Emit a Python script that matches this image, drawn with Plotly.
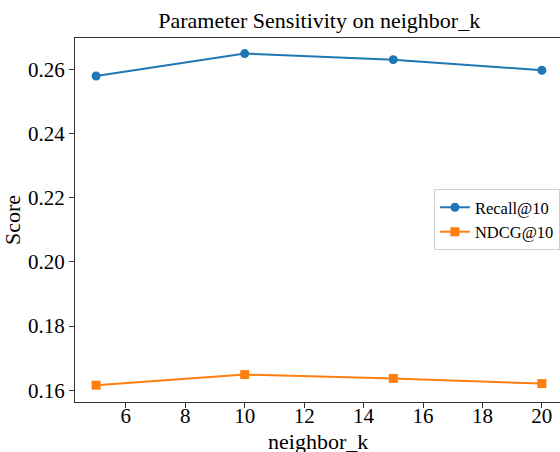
import plotly.graph_objects as go

neighbor_k = [5, 10, 15, 20]
recall_at_10 = [0.2579, 0.2649, 0.2630, 0.2597]
ndcg_at_10 = [0.1616, 0.1649, 0.1637, 0.1621]
x_ticks = [6, 8, 10, 12, 14, 16, 18, 20]
y_ticks = [0.16, 0.18, 0.20, 0.22, 0.24, 0.26]

FONT = "Liberation Serif"

fig = go.Figure()
fig.add_trace(go.Scatter(
    x=neighbor_k, y=recall_at_10, name="Recall@10", mode="lines+markers",
    line=dict(color="#1f77b4", width=2),
    marker=dict(symbol="circle", size=9, color="#1f77b4"),
))
fig.add_trace(go.Scatter(
    x=neighbor_k, y=ndcg_at_10, name="NDCG@10", mode="lines+markers",
    line=dict(color="#ff7f0e", width=2),
    marker=dict(symbol="square", size=9, color="#ff7f0e"),
))

fig.update_layout(
    width=560, height=452,
    margin=dict(l=75, r=0, t=38, b=50, autoexpand=False),
    paper_bgcolor="white", plot_bgcolor="white",
    font=dict(family=FONT, size=22, color="black"),
    title=dict(text="Parameter Sensitivity on neighbor_k", x=0.57, xanchor="center",
               y=0.955, yanchor="middle", font=dict(family=FONT, size=22, color="black")),
    legend=dict(x=0.74, y=0.585, xanchor="left", yanchor="top",
                bgcolor="white", bordercolor="#d0d0d0", borderwidth=1,
                font=dict(family=FONT, size=16.5, color="black"),
                tracegroupgap=0, itemwidth=30),
    showlegend=True,
    annotations=[
        dict(text="neighbor_k", xref="paper", yref="paper", x=0.5, y=-0.108,
             xanchor="center", yanchor="middle", showarrow=False,
             font=dict(family=FONT, size=22, color="black")),
    ],
)
fig.update_xaxes(
    range=[4.29, 20.61], tickvals=x_ticks, ticks="outside", ticklen=5, tickwidth=1,
    tickcolor="#333", showline=True, linecolor="#333", linewidth=1.2, mirror=True,
    showgrid=False, zeroline=False, automargin=False, ticklabelstandoff=-10,
    tickfont=dict(family=FONT, size=21),
)
fig.update_yaxes(
    range=[0.15636, 0.26975], tickvals=y_ticks, tickformat=".2f", ticks="outside",
    ticklen=5, tickwidth=1, tickcolor="#333", showline=True, linecolor="#333",
    linewidth=1.2, mirror=False, showgrid=False, zeroline=False, automargin=False,
    title=dict(text="Score", standoff=6, font=dict(family=FONT, size=22)),
    tickfont=dict(family=FONT, size=21),
)

fig.write_html(
    "out.html",
    config={"displayModeBar": False},
    post_script="document.body.style.margin='0';document.body.style.overflow='hidden';",
)
